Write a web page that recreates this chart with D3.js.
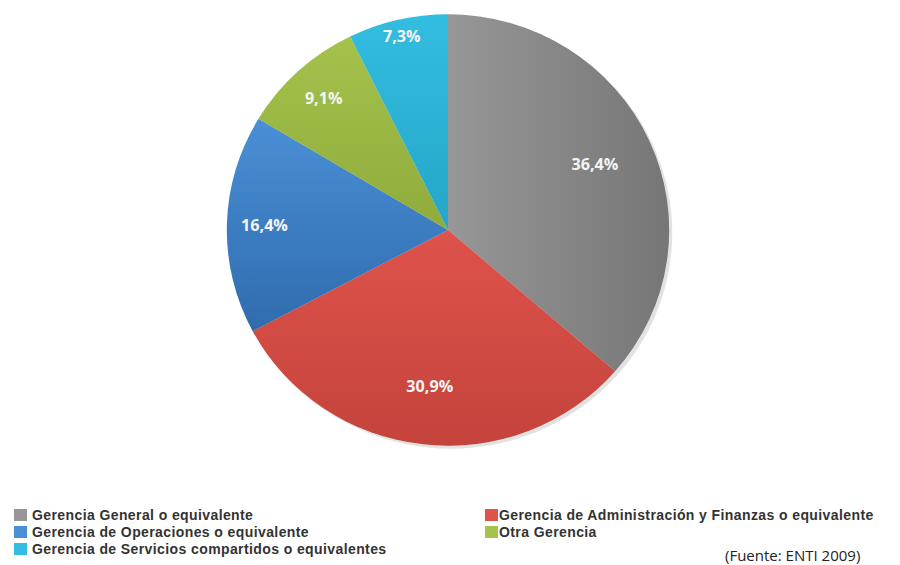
<!DOCTYPE html>
<html>
<head>
<meta charset="utf-8">
<script src="https://cdn.jsdelivr.net/npm/d3@7"></script>
<style>
  body { margin: 0; background: #fff; }
  svg { display: block; }
  .label { font-family: "Open Sans", sans-serif; font-weight: 700; font-size: 16px; fill: #f4f4f4; }
  .legend text { font-family: "Liberation Sans", Arial, sans-serif; font-weight: 700; font-size: 14px; letter-spacing: 0.4px; fill: #333; }
  .source { font-family: "Open Sans", sans-serif; font-size: 15px; fill: #222; }
</style>
</head>
<body>
<svg id="chart" width="900" height="565"></svg>
<script>
const categories = [
  "Gerencia General o equivalente",
  "Gerencia de Administración y Finanzas o equivalente",
  "Gerencia de Operaciones o equivalente",
  "Otra Gerencia",
  "Gerencia de Servicios compartidos o equivalentes"
];
const values = [36.4, 30.9, 16.4, 9.1, 7.3];
const labels = ["36,4%", "30,9%", "16,4%", "9,1%", "7,3%"];
const colorsTop = ["#979797", "#de534b", "#4a8fd6", "#a4c24c", "#33bde0"];
const colorsBottom = ["#767676", "#c4433c", "#2f6cae", "#8fac3c", "#24a6c8"];

const svg = d3.select("#chart");
const cx = 448, cy = 230, R = 219;

const defs = svg.append("defs");
categories.forEach((c, i) => {
  const g = defs.append("linearGradient")
      .attr("id", "grad" + i)
      .attr("x1", 0).attr("y1", 0)
      .attr("x2", i === 0 ? 1 : 0).attr("y2", i === 0 ? 0 : 1);
  g.append("stop").attr("offset", "0%").attr("stop-color", colorsTop[i]);
  g.append("stop").attr("offset", "100%").attr("stop-color", colorsBottom[i]);
});

const pie = d3.pie().sort(null).value(d => d);
const arcs = pie(values);
const arc = d3.arc().innerRadius(0).outerRadius(R);

// Slices
const g = svg.append("g")
    .attr("transform", `translate(${cx},${cy}) scale(1.01,0.985)`);

g.append("circle")
    .attr("r", R)
    .attr("cx", 3).attr("cy", 3)
    .attr("fill", "#cfcfcf")
    .attr("opacity", 0.6);

g.selectAll("path")
  .data(arcs)
  .enter().append("path")
    .attr("d", arc)
    .attr("fill", (d, i) => `url(#grad${i})`);

// Labels, pushed outward in the narrow slices
const labelRadius = v => v < 8 ? R * 0.92 : v < 20 ? R * 0.83 : R * 0.73;
g.selectAll("text")
  .data(arcs)
  .enter().append("text")
    .attr("class", "label")
    .attr("text-anchor", "middle")
    .attr("dy", "0.35em")
    .attr("transform", d => {
      const a = (d.startAngle + d.endAngle) / 2, r = labelRadius(d.value);
      return `translate(${r * Math.sin(a)},${-r * Math.cos(a)})`;
    })
    .text((d, i) => labels[i]);

// Legend
const legendPos = [[14, 515], [485, 515], [14, 532], [485, 532], [14, 549]];
const legend = svg.append("g").attr("class", "legend")
  .selectAll("g")
  .data(categories)
  .enter().append("g")
    .attr("transform", (d, i) => `translate(${legendPos[i][0]},${legendPos[i][1]})`);

legend.append("rect")
    .attr("x", 0).attr("y", -6)
    .attr("width", 13).attr("height", 12)
    .attr("fill", (d, i) => colorsTop[i]);

legend.append("text")
    .attr("x", (d, i) => legendPos[i][0] > 400 ? 14 : 18)
    .attr("dy", "0.35em")
    .text(d => d);

svg.append("text")
    .attr("class", "source")
    .attr("x", 725).attr("y", 561)
    .text("(Fuente: ENTI 2009)");
</script>
</body>
</html>
